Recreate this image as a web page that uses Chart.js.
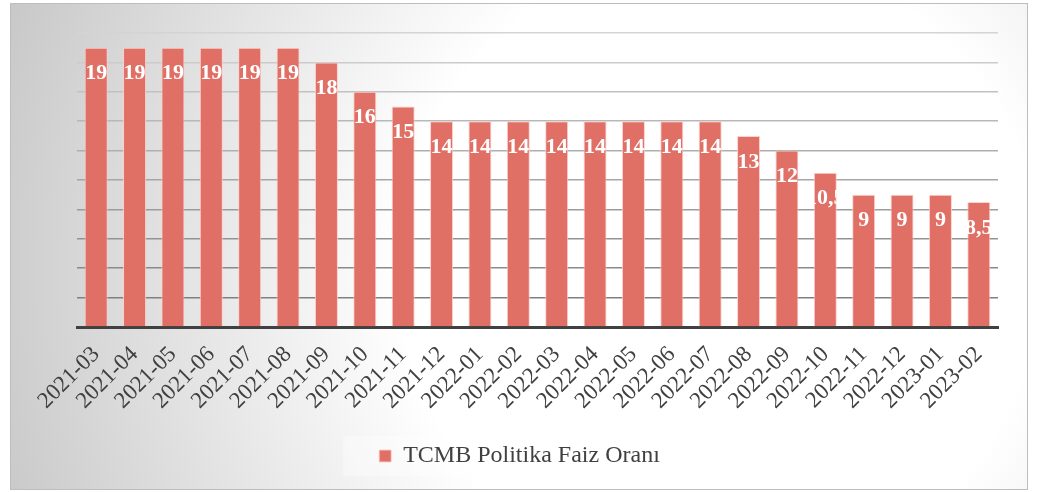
<!DOCTYPE html>
<html>
<head>
<meta charset="utf-8">
<script src="https://cdn.jsdelivr.net/npm/chart.js@4.4.1/dist/chart.umd.min.js"></script>
<style>
  html, body { margin: 0; padding: 0; background: #fff; }
  #wrap { width: 1044px; height: 492px; }
</style>
</head>
<body>
<div id="wrap"><canvas id="chart"></canvas></div>
<script>
const months = [
  "2021-03", "2021-04", "2021-05", "2021-06", "2021-07", "2021-08",
  "2021-09", "2021-10", "2021-11", "2021-12", "2022-01", "2022-02",
  "2022-03", "2022-04", "2022-05", "2022-06", "2022-07", "2022-08",
  "2022-09", "2022-10", "2022-11", "2022-12", "2023-01", "2023-02"
];
const policyRate = [
  19, 19, 19, 19, 19, 19,
  18, 16, 15, 14, 14, 14,
  14, 14, 14, 14, 14, 13,
  12, 10.5, 9, 9, 9, 8.5
];
const seriesName = "TCMB Politika Faiz Oranı";
const yMax = 20;
const yStep = 2;

const serif = "'Liberation Serif', 'Times New Roman', serif";

// Frame with soft radial shading behind the chart
const frameBg = {
  id: "frameBg",
  afterLayout(chart) {
    // legend sits a little left of the plot centre
    chart.legend.left -= 18;
    chart.legend.right -= 18;
  },
  beforeDraw(chart) {
    const ctx = chart.ctx;
    ctx.save();
    ctx.fillStyle = "#ffffff";
    ctx.fillRect(0, 0, chart.width, chart.height);
    const g = ctx.createRadialGradient(720, 270, 0, 720, 270, 760);
    g.addColorStop(0, "#ffffff");
    g.addColorStop(0.42, "#ffffff");
    g.addColorStop(1, "#c8c8c8");
    ctx.fillStyle = g;
    ctx.fillRect(10, 3, 1018, 487);
    ctx.strokeStyle = "#bdbdbd";
    ctx.lineWidth = 1;
    ctx.strokeRect(10.5, 3.5, 1017, 486);

    // faint box behind the legend
    const lg = chart.legend;
    if (lg && lg.legendHitBoxes && lg.legendHitBoxes.length) {
      const hb = lg.legendHitBoxes[0];
      ctx.fillStyle = "rgba(255,255,255,0.35)";
      ctx.fillRect(hb.left - 36, lg.top + 2, hb.width + 72, lg.height - 4);
    }
    ctx.restore();
  }
};

// White value labels just inside the top of each bar
const barValues = {
  id: "barValues",
  afterDatasetsDraw(chart) {
    const ctx = chart.ctx;
    const meta = chart.getDatasetMeta(0);
    ctx.save();
    ctx.font = "bold 22px " + serif;
    ctx.fillStyle = "#ffffff";
    ctx.textAlign = "center";
    ctx.textBaseline = "middle";
    meta.data.forEach((bar, i) => {
      const txt = String(policyRate[i]).replace(".", ",");
      ctx.fillText(txt, bar.x, bar.y + 26);
    });
    ctx.restore();
  }
};

new Chart(document.getElementById("chart"), {
  type: "bar",
  data: {
    labels: months,
    datasets: [
      {
        label: seriesName,
        data: policyRate,
        backgroundColor: "#e06f66",
        borderColor: "rgba(255,205,200,0.9)",
        borderWidth: 1,
        barPercentage: 0.6,
        categoryPercentage: 1
      }
    ]
  },
  options: {
    responsive: true,
    maintainAspectRatio: false,
    animation: false,
    layout: {
      padding: { left: 77, right: 46, top: 33, bottom: 14 }
    },
    plugins: {
      tooltip: { enabled: false },
      legend: {
        position: "bottom",
        labels: {
          color: "#404040",
          font: { family: serif, size: 24 },
          boxWidth: 12,
          boxHeight: 12,
          padding: 10,
          generateLabels() {
            return [{
              text: seriesName,
              fillStyle: "#e06f66",
              strokeStyle: "rgba(255,205,200,0.9)",
              lineWidth: 1,
              datasetIndex: 0,
              fontColor: "#404040"
            }];
          }
        }
      }
    },
    scales: {
      x: {
        grid: { display: false, drawTicks: false },
        border: { display: true, color: "#404040", width: 3 },
        ticks: {
          color: "#404040",
          font: { family: serif, size: 23 },
          minRotation: 45,
          maxRotation: 45,
          autoSkip: false,
          padding: 14
        },
        afterFit(scale) {
          scale.height = 107;
        }
      },
      y: {
        min: 0,
        max: yMax,
        ticks: { display: false, stepSize: yStep },
        border: { display: false },
        grid: {
          drawTicks: false,
          lineWidth: 1.5,
          color(ctx) {
            const v = ctx.tick ? ctx.tick.value : 0;
            const c = Math.round(0x77 + (v / yMax) * (0xd4 - 0x77));
            return "rgb(" + c + "," + c + "," + c + ")";
          }
        }
      }
    }
  },
  plugins: [frameBg, barValues]
});
</script>
</body>
</html>
